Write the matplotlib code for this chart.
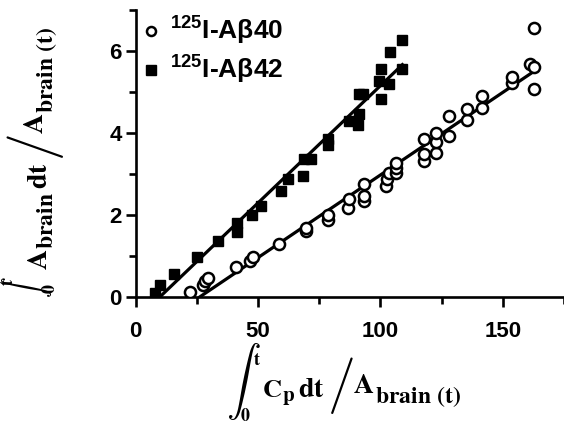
import matplotlib as mpl
import matplotlib.pyplot as plt
import numpy as np

# Fonts: bold sans for ticks/legend, bold serif (stix) for the axis-label equations
plt.rcParams['font.family'] = ['Liberation Sans', 'DejaVu Sans']
plt.rcParams['font.weight'] = 'bold'
plt.rcParams['mathtext.fontset'] = 'custom'
plt.rcParams['mathtext.rm'] = 'Liberation Sans:bold'
plt.rcParams['mathtext.it'] = 'Liberation Sans:bold'
plt.rcParams['mathtext.bf'] = 'Liberation Sans:bold'
plt.rcParams['axes.linewidth'] = 1.9

# 125I-Abeta40 (open circles)
x40 = [22.2, 27.6, 28.5, 29.6, 41.2, 46.6, 47.9, 58.8, 69.7, 69.7, 78.5, 78.5,
       86.6, 87.3, 93.4, 93.4, 93.4, 102.2, 102.9, 103.6, 106.3, 106.3, 106.3,
       117.8, 117.8, 117.8, 122.6, 122.6, 122.6, 128.0, 128.0, 135.5, 135.5,
       141.6, 141.6, 153.8, 153.8, 161.3, 162.6, 162.6, 162.6]
y40 = [0.13, 0.29, 0.38, 0.46, 0.72, 0.89, 0.97, 1.30, 1.60, 1.68, 1.89, 2.00,
       2.17, 2.38, 2.34, 2.46, 2.75, 2.70, 2.87, 3.03, 3.03, 3.15, 3.28,
       3.32, 3.50, 3.85, 3.52, 3.77, 4.01, 3.93, 4.42, 4.32, 4.58,
       4.62, 4.91, 5.22, 5.36, 5.69, 5.61, 5.07, 6.56]

# 125I-Abeta42 (filled squares)
x42 = [7.9, 10.0, 15.7, 25.0, 33.6, 41.3, 41.3, 47.4, 51.3, 59.5, 62.2, 68.3,
       69.0, 71.7, 78.5, 78.5, 87.3, 90.7, 91.4, 91.4, 93.0, 99.5, 100.2, 100.2,
       103.6, 103.9, 109.0, 109.0]
y42 = [0.10, 0.29, 0.56, 0.98, 1.37, 1.81, 1.59, 2.00, 2.21, 2.58, 2.87, 2.95,
       3.36, 3.36, 3.85, 3.70, 4.30, 4.20, 4.46, 4.95, 4.95, 5.28, 5.55, 4.83,
       5.20, 5.97, 6.26, 5.56]

labels = [r'$^{125}$I-Aβ40', r'$^{125}$I-Aβ42']

W, H = 564, 425
fig = plt.figure(figsize=(W / 100, H / 100), dpi=100)
ax = fig.add_axes([135.5 / W, 1 - 297 / H, 1 - 135.5 / W, (297 - 10) / H])

ax.plot(x40, y40, 'o', ms=8, mfc='white', mec='black', mew=1.8, ls='none',
        label=labels[0], zorder=3)
ax.plot(x42, y42, 's', ms=7, color='black', ls='none', label=labels[1], zorder=3)

# linear fits, drawn from the x-intercept to the last point
for xs, ys in [(x40, y40), (x42, y42)]:
    xs = np.array(xs)
    ys = np.array(ys)
    k, b = np.polyfit(xs, ys, 1)
    xx = np.array([-b / k, xs.max()])
    ax.plot(xx, k * xx + b, color='black', lw=2.3, zorder=2)

ax.set_xlim(0, 175)
ax.set_ylim(0, 7)
ax.xaxis.set_major_locator(mpl.ticker.MultipleLocator(50))
ax.xaxis.set_minor_locator(mpl.ticker.MultipleLocator(25))
ax.yaxis.set_major_locator(mpl.ticker.MultipleLocator(2))
ax.yaxis.set_minor_locator(mpl.ticker.MultipleLocator(1))
ax.tick_params(which='major', length=7, width=1.9, labelsize=16)
ax.tick_params(which='minor', length=5, width=1.9)
ax.tick_params(axis='x', which='major', pad=10)
ax.tick_params(axis='y', which='major', pad=3)
ax.spines['top'].set_visible(False)
ax.spines['right'].set_visible(False)

leg = ax.legend(loc='upper left', frameon=False, handletextpad=0.3,
                handlelength=0.8, borderaxespad=0.0, labelspacing=0.25,
                borderpad=0.2, prop={'weight': 'bold', 'size': 19})
for h in leg.legend_handles:
    h.set_markersize(6.5)

# axis-label equations, built from pieces laid out one after another
ident = mpl.transforms.IdentityTransform()
renderer = fig.canvas.get_renderer()


def equation(pieces, ox, oy, rot, start):
    # pieces: (text, size, up, gap, fixed_along, centred, math font)
    cursor = start
    for s, size, up, gap, fixed, centred, mfont in pieces:
        along = fixed if fixed is not None else cursor + gap
        if rot == 0:
            px, py = ox + along, oy - up
        else:
            px, py = ox - up, oy - along
        t = fig.text(px, H - py, s, transform=ident, fontsize=size, rotation=rot,
                     rotation_mode='anchor', ha='left',
                     va='center' if centred else 'baseline')
        t.set_math_fontfamily(mfont)
        if fixed is None:
            bb = t.get_window_extent(renderer)
            cursor = along + (bb.width if rot == 0 else bb.height)


xlab = [(r'$\int$', 25, 16, 0, -2, True, 'cm'),
        (r'$\mathbf{t}$', 13, 32, 0, 25, False, 'stix'),
        (r'$\mathbf{0}$', 13, -24, 0, 12, False, 'stix'),
        (r'$\mathbf{C}$', 19, 0, 0, None, False, 'stix'),
        (r'$\mathbf{p}$', 15, -4, 0, None, False, 'stix'),
        (r'$\mathbf{dt}$', 20, 0, 3, None, False, 'stix'),
        (r'$/$', 40, 12, 2, None, True, 'cm'),
        (r'$\mathbf{A}$', 20, 4, 0, None, False, 'stix'),
        (r'$\mathbf{brain\ (t)}$', 17, -6, 0, None, False, 'stix')]
equation(xlab, 228, 397, 0, 34)

ylab = [(r'$\int$', 15, 20, 0, 2, True, 'cm'),
        (r'$\mathbf{t}$', 13, 34, 0, 14, False, 'stix'),
        (r'$\mathbf{0}$', 13, -8, 0, 6, False, 'stix'),
        (r'$\mathbf{A}$', 20, 0, 0, None, False, 'stix'),
        (r'$\mathbf{brain}$', 17, -6, 0, None, False, 'stix'),
        (r'$\mathbf{dt}$', 20, 0, 3, None, False, 'stix'),
        (r'$/$', 40, 12, 2, None, True, 'cm'),
        (r'$\mathbf{A}$', 20, 4, 0, None, False, 'stix'),
        (r'$\mathbf{brain\ (t)}$', 17, -6, 0, None, False, 'stix')]
equation(ylab, 47, 300, 90, 30)

fig.savefig('out.png', dpi=100)
